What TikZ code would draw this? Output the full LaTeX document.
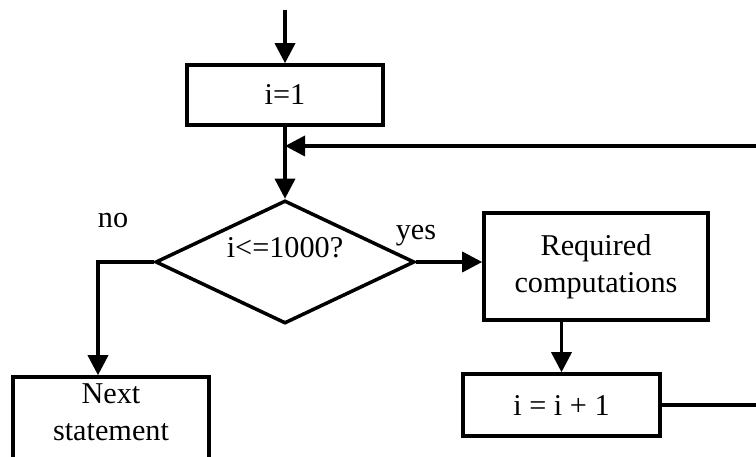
\documentclass[tikz,border=0pt]{standalone}
\usepackage{fontspec}
\setmainfont{Liberation Serif}
\usetikzlibrary{arrows.meta,shapes.geometric}
\begin{document}
\begin{tikzpicture}[x=0.025cm,y=0.025cm,line width=2.5pt,
  flow/.style={-{Triangle[length=0.5cm,width=0.5cm]}},
  box/.style={draw,rectangle,inner sep=0pt},
  every node/.style={font=\fontsize{21.5}{26.3}\selectfont}]
\useasboundingbox (0,0) rectangle (756,457);
\clip (0,0) rectangle (756,457);
\node[box,minimum width=4.9cm,minimum height=1.5cm] (init) at (285,362) {i=1};
\node[draw,diamond,inner sep=0pt,minimum width=6.475cm,minimum height=3.075cm] (check) at (285,195) {};
\node[anchor=base] (checktext) at (285,199) {i<=1000?};
\node[anchor=base] (no) at (113,229) {no};
\node[anchor=base] (yes) at (416,217) {yes};
\node[box,minimum width=5.6cm,minimum height=2.675cm,align=center] (req) at (596,190.5) {Required\\computations};
\node[box,minimum width=4.925cm,minimum height=1.55cm] (inc) at (561.5,52) {i = i + 1};
\node[box,minimum width=4.9cm,minimum height=3cm] (next) at (111,20) {};
\node[align=center] (nexttext) at (111,44.5) {Next\\statement};
\coordinate (start) at (285,447);
\coordinate (loopin) at (760,311);
\coordinate (loopout) at (760,52);
\coordinate (nobend) at (98,195);
\draw[flow] (start) -- (init.north);
\draw[flow] (init.south) -- (check.north);
\draw[flow] (loopin) -- (loopin -| init.south);
\draw[flow] (check.east) -- (check.east -| req.west);
\draw[flow] (check.west) -- (nobend) -- (nobend |- next.north);
\draw[flow] (inc.north |- req.south) -- (inc.north);
\draw (inc.east) -- (loopout);
\end{tikzpicture}
\end{document}
